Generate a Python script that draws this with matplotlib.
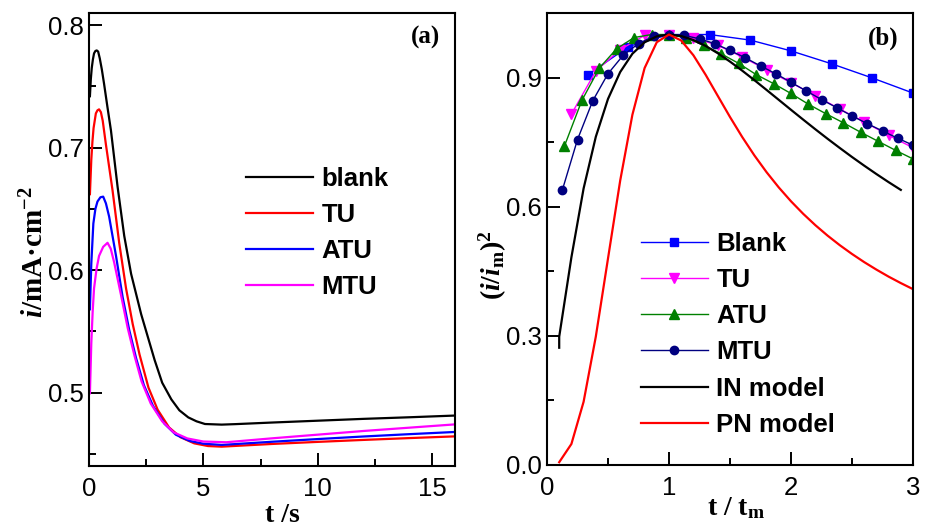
import matplotlib
matplotlib.use("Agg")
import matplotlib.pyplot as plt
from matplotlib.ticker import MultipleLocator

plt.rcParams['font.family'] = ['Liberation Sans', 'DejaVu Sans']
plt.rcParams['mathtext.fontset'] = 'custom'
plt.rcParams['mathtext.rm'] = 'Liberation Serif:bold'
plt.rcParams['mathtext.bf'] = 'Liberation Serif:bold'
plt.rcParams['mathtext.it'] = 'Liberation Serif:italic:bold'

# ---------------- Panel (a) data: current transients ----------------
blank_t = [0.04, 0.08, 0.12, 0.17, 0.22, 0.28, 0.34, 0.40, 0.47, 0.56, 0.66, 0.8, 0.96,
           1.25, 1.54, 1.84, 2.28, 2.87, 3.2, 3.6, 3.95, 4.34, 4.7, 5.07, 5.8, 6.4, 8.0,
           10.0, 12.0, 14.0, 16.0]
blank_i = [0.742, 0.756, 0.765, 0.772, 0.777, 0.779, 0.7794, 0.7785, 0.773, 0.764, 0.752,
           0.734, 0.714, 0.668, 0.628, 0.597, 0.564, 0.5265, 0.508, 0.4944, 0.4855,
           0.4797, 0.4765, 0.4743, 0.4738, 0.4742, 0.4755, 0.4770, 0.4785, 0.4798, 0.4812]

tu_t = [0.04, 0.1, 0.15, 0.2, 0.3, 0.37, 0.44, 0.52, 0.6, 0.74, 1.03, 1.32, 1.62, 1.91,
        2.21, 2.6, 3.0, 3.5, 4.0, 4.6, 5.2, 5.8, 8.0, 10.0, 12.0, 14.0, 16.0]
tu_i = [0.662, 0.69, 0.705, 0.716, 0.728, 0.7305, 0.7313, 0.729, 0.722, 0.7025, 0.665,
        0.6223, 0.585, 0.556, 0.531, 0.504, 0.486, 0.4715, 0.4635, 0.4585, 0.4563,
        0.4558, 0.4580, 0.4597, 0.4613, 0.4628, 0.4642]

atu_t = [0.04, 0.1, 0.19, 0.28, 0.37, 0.5, 0.62, 0.74, 0.88, 1.18, 1.47, 1.76, 2.06, 2.4,
         2.8, 3.3, 3.8, 4.4, 5.0, 5.8, 8.0, 10.0, 12.0, 14.0, 16.0]
atu_i = [0.568, 0.605, 0.638, 0.650, 0.656, 0.6595, 0.66, 0.6545, 0.6437, 0.6117, 0.578,
         0.551, 0.528, 0.506, 0.489, 0.4745, 0.4655, 0.4605, 0.4582, 0.4572, 0.4598,
         0.4620, 0.4641, 0.4660, 0.4678]

mtu_t = [0.04, 0.1, 0.16, 0.22, 0.33, 0.44, 0.62, 0.81, 0.95, 1.1, 1.4, 1.69, 1.99, 2.3,
         2.7, 3.2, 3.7, 4.3, 5.0, 6.0, 8.0, 10.0, 12.0, 14.0, 16.0]
mtu_i = [0.4994, 0.54, 0.566, 0.585, 0.601, 0.6116, 0.619, 0.6223, 0.6175, 0.6063, 0.5796,
         0.5529, 0.530, 0.509, 0.491, 0.4765, 0.4675, 0.4625, 0.4600, 0.4594, 0.4626,
         0.4656, 0.4686, 0.4713, 0.4740]

# ---------------- Panel (b) data: dimensionless transients ----------------
b_blank_t = [0.333, 0.667, 1.0, 1.333, 1.667, 2.0, 2.333, 2.667, 3.0]
b_blank_y = [0.906, 0.972, 1.0, 1.0, 0.987, 0.962, 0.932, 0.899, 0.864]

b_tu_t = [0.2, 0.4, 0.6, 0.8, 1.0, 1.2, 1.4, 1.6, 1.8, 2.0, 2.2, 2.4, 2.6, 2.8, 3.0]
b_tu_y = [0.815, 0.915, 0.965, 0.998, 1.0, 0.992, 0.975, 0.948, 0.918, 0.888, 0.858,
          0.827, 0.797, 0.766, 0.737]

b_atu_t = [0.143, 0.286, 0.429, 0.571, 0.714, 0.857, 1.0, 1.143, 1.286, 1.429, 1.571,
           1.714, 1.857, 2.0, 2.143, 2.286, 2.429, 2.571, 2.714, 2.857, 3.0]
b_atu_y = [0.741, 0.847, 0.922, 0.967, 0.993, 1.0, 1.0, 0.992, 0.975, 0.955, 0.933,
           0.907, 0.886, 0.863, 0.838, 0.816, 0.795, 0.773, 0.752, 0.731, 0.711]

b_mtu_t = [0.125, 0.25, 0.375, 0.5, 0.625, 0.75, 0.875, 1.0, 1.125, 1.25, 1.375, 1.5,
           1.625, 1.75, 1.875, 2.0, 2.125, 2.25, 2.375, 2.5, 2.625, 2.75, 2.875, 3.0]
b_mtu_y = [0.638, 0.756, 0.846, 0.909, 0.952, 0.979, 0.996, 1.0, 0.998, 0.99, 0.979,
           0.963, 0.946, 0.927, 0.909, 0.889, 0.869, 0.849, 0.830, 0.811, 0.793, 0.776,
           0.759, 0.743]

in_t = [0.1, 0.1, 0.2, 0.3, 0.4, 0.5, 0.6, 0.7, 0.8, 0.9, 1.0, 1.1, 1.2, 1.3, 1.4, 1.5,
        1.6, 1.7, 1.8, 1.9, 2.0, 2.1, 2.2, 2.3, 2.4, 2.5, 2.6, 2.7, 2.8, 2.9]
in_y = [0.2724, 0.298, 0.4824, 0.6424, 0.7624, 0.8504, 0.9129, 0.9554, 0.9819, 0.9958,
        1.0, 0.9965, 0.9872, 0.9735, 0.9565, 0.9371, 0.9161, 0.8940, 0.8712, 0.8482,
        0.8251, 0.8023, 0.7798, 0.7578, 0.7364, 0.7155, 0.6954, 0.6759, 0.6571, 0.6391]

pn_t = [0.1, 0.2, 0.3, 0.4, 0.5, 0.6, 0.7, 0.8, 0.9, 1.0, 1.1, 1.2, 1.3, 1.4, 1.5, 1.6,
        1.7, 1.8, 1.9, 2.0, 2.1, 2.2, 2.3, 2.4, 2.5, 2.6, 2.7, 2.8, 2.9, 3.0]
pn_y = [0.0065, 0.0488, 0.1469, 0.2981, 0.4797, 0.6608, 0.8137, 0.9221, 0.9822, 1.0,
        0.9861, 0.9518, 0.9066, 0.8574, 0.8084, 0.7620, 0.7191, 0.6801, 0.6447, 0.6126,
        0.5835, 0.5570, 0.5328, 0.5106, 0.4902, 0.4713, 0.4539, 0.4376, 0.4226, 0.4085]

W, H = 927, 531
fig = plt.figure(figsize=(W / 100, H / 100), dpi=100)
ax1 = fig.add_axes([89 / W, 1 - 466 / H, 366 / W, 453 / H])
ax2 = fig.add_axes([547 / W, 1 - 465 / H, 366 / W, 452 / H])

tick_font = 18.5
for ax in (ax1, ax2):
    for s in ax.spines.values():
        s.set_linewidth(1.5)
    ax.tick_params(which='both', direction='in', top=False, right=False,
                   labelsize=tick_font, width=1.4)
    ax.tick_params(which='major', length=9.5)
    ax.tick_params(which='minor', length=5)
    ax.tick_params(axis='x', pad=8)
    ax.tick_params(axis='y', pad=4)

leg_prop = {'family': 'Liberation Sans', 'weight': 'bold', 'size': 18.5}

# Panel (a)
lw_a = 1.6
ax1.plot(blank_t, blank_i, color='black', lw=lw_a, label='blank')
ax1.plot(tu_t, tu_i, color='#ff0000', lw=lw_a, label='TU')
ax1.plot(atu_t, atu_i, color='#0000ff', lw=lw_a, label='ATU')
ax1.plot(mtu_t, mtu_i, color='#ff00ff', lw=lw_a, label='MTU')
ax1.set_xlim(0, 16)
ax1.set_ylim(0.44, 0.81)
ax1.xaxis.set_minor_locator(MultipleLocator(2.5))
ax1.yaxis.set_minor_locator(MultipleLocator(0.05))
ax1.set_xticks([0, 5, 10, 15])
ax1.set_xticklabels(['0', '5', '10', '15'])
ax1.set_yticks([0.5, 0.6, 0.7, 0.8])
ax1.set_yticklabels(['0.5', '0.6', '0.7', '0.8'])
ax1.legend(loc='upper left', bbox_to_anchor=(0.429, 0.66), frameon=False,
           borderpad=0, borderaxespad=0, handlelength=2.6, handletextpad=0.33,
           labelspacing=0.47, prop=leg_prop)
ax1.text(0.96, 0.945, '(a)', transform=ax1.transAxes, ha='right', va='center',
         fontsize=18, fontweight='bold', family='Liberation Serif')
ax1.set_xlabel('t /s', fontsize=20, fontweight='bold', family='Liberation Serif')
ax1.xaxis.set_label_coords(0.527, -0.082)
ax1.set_ylabel(r'$i$/mA·cm$^{-2}$', fontsize=21, fontweight='bold',
               family='Liberation Serif')
ax1.yaxis.set_label_coords(-0.108, 0.472)

# Panel (b)
ax2.plot(b_blank_t, b_blank_y, color='#0000ff', lw=1.0, marker='s', ms=6, label='Blank')
ax2.plot(b_tu_t, b_tu_y, color='#ff00ff', lw=1.0, marker='v', ms=6.5, label='TU')
ax2.plot(b_atu_t, b_atu_y, color='#008000', lw=1.0, marker='^', ms=6.5, label='ATU')
ax2.plot(b_mtu_t, b_mtu_y, color='#000080', lw=1.0, marker='o', ms=6, label='MTU')
ax2.plot(in_t, in_y, color='black', lw=1.6, label='IN model')
ax2.plot(pn_t, pn_y, color='#ff0000', lw=1.6, label='PN model')
ax2.set_xlim(0, 3)
ax2.set_ylim(0, 1.05)
ax2.xaxis.set_minor_locator(MultipleLocator(0.5))
ax2.yaxis.set_minor_locator(MultipleLocator(0.15))
ax2.set_xticks([0, 1, 2, 3])
ax2.set_xticklabels(['0', '1', '2', '3'])
ax2.set_yticks([0.0, 0.3, 0.6, 0.9])
ax2.set_yticklabels(['0.0', '0.3', '0.6', '0.9'])
ax2.legend(loc='upper left', bbox_to_anchor=(0.257, 0.515), frameon=False,
           borderpad=0, borderaxespad=0, handlelength=2.6, handletextpad=0.33,
           labelspacing=0.47, numpoints=1, prop=leg_prop)
ax2.text(0.96, 0.945, '(b)', transform=ax2.transAxes, ha='right', va='center',
         fontsize=18, fontweight='bold', family='Liberation Serif')
ax2.set_xlabel(r't / t$_{\rm m}$', fontsize=20, fontweight='bold',
               family='Liberation Serif')
ax2.xaxis.set_label_coords(0.516, -0.066)
ax2.set_ylabel(r'($i$/$i_{\rm m}$)$^{2}$', fontsize=20, fontweight='bold',
               family='Liberation Serif')
ax2.yaxis.set_label_coords(-0.104, 0.442)

fig.savefig('out.png', dpi=100)
